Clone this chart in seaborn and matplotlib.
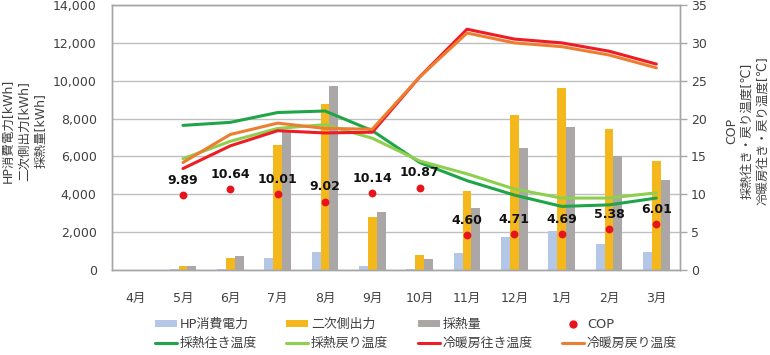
import numpy as np
import pandas as pd
import matplotlib
matplotlib.use("Agg")
import matplotlib.pyplot as plt
import seaborn as sns
from matplotlib.patches import Patch
from matplotlib.lines import Line2D

# ---- data ----
months = ["4月", "5月", "6月", "7月", "8月", "9月", "10月", "11月", "12月", "1月", "2月", "3月"]
hp_power = [0, 30, 50, 620, 950, 220, 50, 900, 1720, 2040, 1380, 940]
secondary_out = [0, 190, 660, 6580, 8750, 2780, 800, 4200, 8190, 9600, 7430, 5780]
heat_collected = [0, 190, 760, 7280, 9700, 3050, 600, 3260, 6470, 7580, 6000, 4730]
cop = [np.nan, 9.89, 10.64, 10.01, 9.02, 10.14, 10.87, 4.60, 4.71, 4.69, 5.38, 6.01]
t_collect_supply = [np.nan, 19.1, 19.5, 20.8, 21.0, 18.4, 14.2, 11.8, 9.9, 8.4, 8.6, 9.5]
t_collect_return = [np.nan, 14.7, 17.0, 18.7, 19.2, 17.4, 14.4, 12.7, 10.7, 9.5, 9.5, 10.2]
t_hvac_supply = [np.nan, 13.4, 16.4, 18.4, 18.1, 18.2, 25.5, 31.8, 30.5, 30.0, 28.9, 27.2]
t_hvac_return = [np.nan, 14.2, 17.9, 19.4, 18.7, 18.6, 25.5, 31.3, 30.0, 29.5, 28.4, 26.7]

bar_names = ["HP消費電力", "二次側出力", "採熱量"]
bar_colors = ["#B4C7E7", "#F5B81C", "#ABA7A7"]
line_names = ["採熱往き温度", "採熱戻り温度", "冷暖房往き温度", "冷暖房戻り温度"]
line_colors = ["#1FA548", "#8FCF4E", "#EE1C24", "#ED7D31"]
cop_name = "COP"
cop_color = "#E8141B"

# ---- style ----
sns.set_theme(style="white")
plt.rcParams["font.family"] = ["DejaVu Sans", "Noto Sans CJK JP"]
plt.rcParams["font.size"] = 9

fig = plt.figure(figsize=(7.7, 3.55), dpi=100)
ax = fig.add_axes([112 / 770, 1 - 270 / 355, 568 / 770, 265 / 355])

pos = np.arange(len(months))
bars_df = pd.DataFrame({
    "pos": np.tile(pos, 3),
    "value": hp_power + secondary_out + heat_collected,
    "series": np.repeat(bar_names, len(months)),
})
sns.barplot(data=bars_df, x="pos", y="value", hue="series", hue_order=bar_names,
            palette=bar_colors, width=0.57, gap=0, dodge=True, ax=ax,
            legend=False, saturation=1, linewidth=0, native_scale=False)

ax.set_xlim(-0.5, len(months) - 0.5)
ax.set_ylim(0, 14000)
ax.set_yticks(np.arange(0, 14001, 2000))
ax.set_yticklabels([f"{v:,}" for v in range(0, 14001, 2000)], color="#404040")
ax.set_xticks(pos)
ax.set_xticklabels(months, color="#404040")
ax.set_xlabel("")
ax.set_ylabel("")
ax.yaxis.grid(True, color="#BFBFBF", linewidth=1)
ax.set_axisbelow(True)
ax.tick_params(axis="y", length=0, pad=11, labelsize=9)
ax.tick_params(axis="x", length=0, pad=16, labelsize=9)
for s in ax.spines.values():
    s.set_color("#A6A6A6")
    s.set_linewidth(1)

ax2 = ax.twinx()
ax2.set_ylim(0, 35)
ax2.set_yticks(np.arange(0, 36, 5))
lines_df = pd.DataFrame({
    "pos": np.tile(pos, 4),
    "temp": t_collect_supply + t_collect_return + t_hvac_supply + t_hvac_return,
    "series": np.repeat(line_names, len(months)),
})
sns.lineplot(data=lines_df, x="pos", y="temp", hue="series", hue_order=line_names,
             palette=line_colors, linewidth=2.2, ax=ax2, legend=False)

cop_df = pd.DataFrame({"pos": pos, "cop": cop})
sns.scatterplot(data=cop_df, x="pos", y="cop", color=cop_color, s=32,
                linewidth=0, ax=ax2, zorder=5, legend=False)
for p, c in zip(pos, cop):
    if not np.isnan(c):
        ax2.annotate(f"{c:.2f}", (p, c), xytext=(0, 6), textcoords="offset points",
                     ha="center", va="bottom", fontsize=9, fontweight="bold",
                     color="#111111", zorder=6)

ax2.set_xlim(-0.5, len(months) - 0.5)
ax2.set_xlabel("")
ax2.set_ylabel("")
ax2.tick_params(axis="y", length=5, width=1, color="#A6A6A6", pad=3,
                labelsize=9, labelcolor="#404040", direction="out")
for s in ax2.spines.values():
    s.set_color("#A6A6A6")
    s.set_linewidth(1)

# axis titles
fig.text(25 / 770, 1 - 131 / 355, "HP消費電力[kWh]\n二次側出力[kWh]\n採熱量[kWh]",
         rotation=90, ha="center", va="center", multialignment="center",
         fontsize=9, color="#404040", linespacing=1.35)
fig.text(747 / 770, 1 - 131 / 355, "COP\n採熱往き・戻り温度[℃]\n冷暖房往き・戻り温度[℃]",
         rotation=90, ha="center", va="center", multialignment="center",
         fontsize=9, color="#404040", linespacing=1.25)

# legend (column-major order for 2 rows x 4 cols)
h_bar = [Patch(facecolor=c, edgecolor="none", label=n) for n, c in zip(bar_names, bar_colors)]
h_cop = Line2D([], [], marker="o", linestyle="none", color=cop_color, markersize=5, label=cop_name)
h_line = [Line2D([], [], color=c, linewidth=2.2, label=n) for n, c in zip(line_names, line_colors)]
handles = [h_bar[0], h_line[0], h_bar[1], h_line[1], h_bar[2], h_line[2], h_cop, h_line[3]]
leg = fig.legend(handles=handles, ncol=4, loc="center", bbox_to_anchor=(416 / 770, 1 - 334 / 355),
                 frameon=False, fontsize=9.3, handlelength=1.7, handleheight=0.5,
                 handletextpad=0.2, columnspacing=2.3, labelspacing=0.45)
for t in leg.get_texts():
    t.set_color("#404040")

fig.savefig("out.png", dpi=100)
